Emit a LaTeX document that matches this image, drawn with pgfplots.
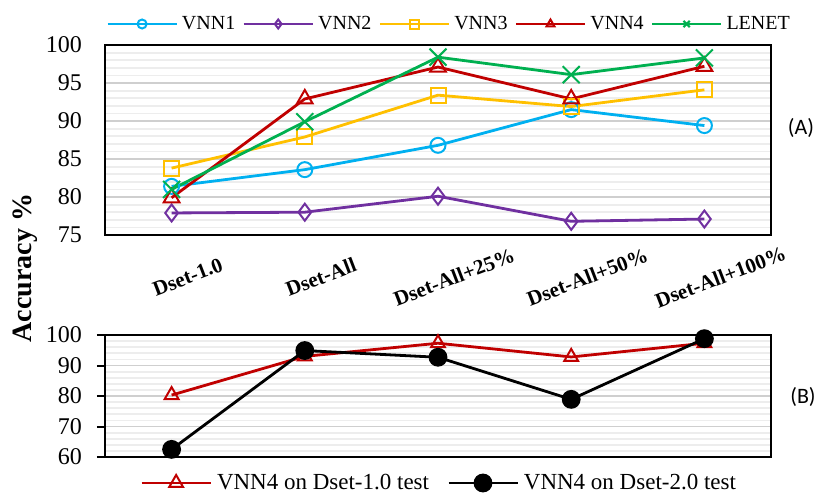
\documentclass[border=0pt]{standalone}
\usepackage{fontspec}
\setmainfont{Liberation Serif}
\newfontfamily\carlito{Carlito}
\usepackage{pgfplots}
\pgfplotsset{compat=1.18}
\definecolor{cA}{HTML}{00B0F0}
\definecolor{cB}{HTML}{7030A0}
\definecolor{cC}{HTML}{FFC000}
\definecolor{cD}{HTML}{C00000}
\definecolor{cE}{HTML}{00B050}
\pgfplotsset{
  common/.style={
    scale only axis, width=666pt,
    xmin=-0.5, xmax=4.5, xtick={0,...,4},
    ymajorgrids, yminorgrids,
    major grid style={color=gray!38, line width=1.8pt},
    minor grid style={color=gray!14, line width=1.8pt},
    minor tick length=0pt,
    axis line style={line width=2pt},
    /pgf/number format/assume math mode=true,
    yticklabel style={font=\fontsize{24}{28}\selectfont, inner sep=0pt},
    every axis plot/.append style={line width=2.8pt},
  }
}
\begin{document}
\begin{tikzpicture}[x=1pt,y=1pt]
\useasboundingbox (0,0) rectangle (829,-495);
\begin{axis}[common,
  at={(105pt,-45pt)}, anchor=north west, height=190pt,
  ymin=75, ymax=100, ytick={75,80,...,100}, minor y tick num=4,
  major tick length=0pt,
  yticklabel style={xshift=-23pt},
  xticklabels={Dset-1.0,Dset-All,Dset-All+25\%,Dset-All+50\%,Dset-All+100\%},
  xticklabel style={font=\bfseries\fontsize{21}{24}\selectfont, rotate=21, anchor=center, yshift=-45pt},
  legend columns=5,
  legend style={at={(0.0015,1.1105)}, anchor=west, draw=none, fill=none, inner sep=0pt,
    font=\fontsize{20}{22}\selectfont, nodes={inner sep=0pt},
    /tikz/every odd column/.append style={column sep=4pt},
    /tikz/every even column/.append style={column sep=7pt}},
  legend image code/.code={\draw[mark repeat=2,mark phase=2,mark size=4.5pt] plot coordinates {(0pt,0pt)(34.5pt,0pt)(69pt,0pt)};},
]
\addplot[color=cA, mark=o, mark size=7.5pt, mark options={line width=2pt}] coordinates {(0,81.4)(1,83.6)(2,86.8)(3,91.5)(4,89.4)};
\addlegendentry{VNN1}
\addplot[color=cB, mark=diamond, mark size=8.5pt, mark options={line width=2pt}] coordinates {(0,77.9)(1,78.0)(2,80.1)(3,76.8)(4,77.1)};
\addlegendentry{VNN2}
\addplot[color=cC, mark=square, mark size=7.5pt, mark options={line width=2pt}] coordinates {(0,83.8)(1,87.9)(2,93.4)(3,91.9)(4,94.1)};
\addlegendentry{VNN3}
\addplot[color=cD, mark=triangle, mark size=9pt, mark options={line width=2pt}] coordinates {(0,79.9)(1,92.9)(2,97.1)(3,92.9)(4,97.2)};
\addlegendentry{VNN4}
\addplot[color=cE, mark=x, mark size=12pt, mark options={line width=2pt}] coordinates {(0,81.0)(1,89.9)(2,98.4)(3,96.1)(4,98.3)};
\addlegendentry{LENET}
\end{axis}
\begin{axis}[common,
  at={(105pt,-335pt)}, anchor=north west, height=122pt,
  ymin=60, ymax=100, ytick={60,70,...,100}, minor y tick num=4,
  xticklabels={}, 
  ytick pos=left, xtick style={draw=none},
  ytick style={line width=2pt, black}, major tick length=8pt, tick align=outside,
  yticklabel style={xshift=-15pt},
  legend columns=2,
  legend style={at={(0.0526,-0.213)}, anchor=west, draw=none, fill=none, inner sep=0pt,
    font=\fontsize{23}{26}\selectfont, nodes={inner sep=0pt},
    /tikz/every odd column/.append style={column sep=5pt},
    /tikz/every even column/.append style={column sep=18pt}},
  legend image code/.code={\draw[mark repeat=2,mark phase=2] plot coordinates {(0pt,0pt)(34.5pt,0pt)(69pt,0pt)};},
]
\addplot[color=cD, mark=triangle, mark size=8pt, mark options={line width=2pt}] coordinates {(0,80.3)(1,93.0)(2,97.3)(3,92.8)(4,97.3)};
\addlegendentry{VNN4 on Dset-1.0 test}
\addplot[color=black, mark=*, mark size=8pt] coordinates {(0,62.5)(1,94.9)(2,92.7)(3,78.9)(4,98.8)};
\addlegendentry{VNN4 on Dset-2.0 test}
\end{axis}
\node[rotate=90, font=\bfseries\fontsize{28}{30}\selectfont] at (25,-268) {Accuracy \%};
\node[font=\carlito\fontsize{22}{26}\selectfont] at (801,-128) {(A)};
\node[font=\carlito\fontsize{22}{26}\selectfont] at (803,-397) {(B)};
\end{tikzpicture}
\end{document}
